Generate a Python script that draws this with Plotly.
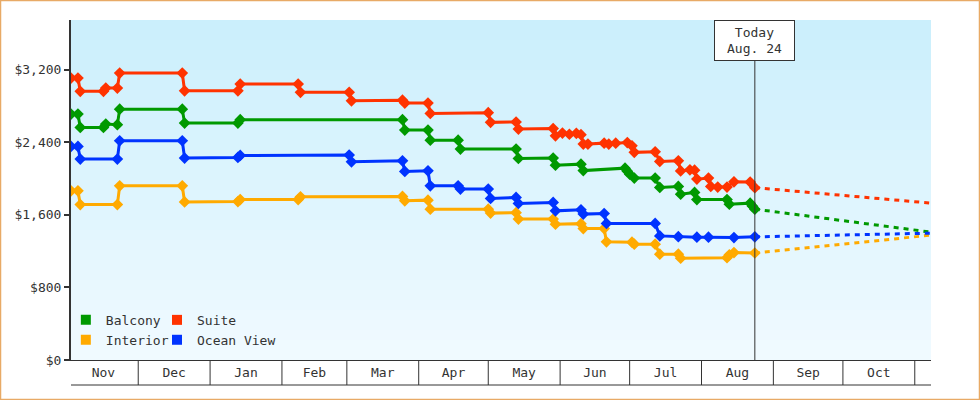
import plotly.graph_objects as go
import pandas as pd

# price history per cabin type
balcony_dates = ["2012-11-02", "2012-11-05", "2012-11-06", "2012-11-16", "2012-11-17", "2012-11-22",
                 "2012-11-23", "2012-12-20", "2012-12-21", "2013-01-13", "2013-01-14", "2013-03-25",
                 "2013-03-26", "2013-04-05", "2013-04-06", "2013-04-18", "2013-04-19", "2013-05-13",
                 "2013-05-14", "2013-05-29", "2013-05-30", "2013-06-10", "2013-06-11", "2013-06-29",
                 "2013-06-30", "2013-07-01", "2013-07-03", "2013-07-12", "2013-07-14", "2013-07-22",
                 "2013-07-23", "2013-07-29", "2013-07-30", "2013-08-12", "2013-08-13", "2013-08-22",
                 "2013-08-23", "2013-08-24"]
balcony_prices = [2712, 2712, 2565, 2565, 2602, 2596,
                  2767, 2767, 2613, 2613, 2651, 2651,
                  2536, 2536, 2425, 2425, 2326, 2326,
                  2223, 2227, 2149, 2160, 2089, 2116,
                  2083, 2050, 2006, 2006, 1903, 1914,
                  1829, 1848, 1769, 1769, 1719, 1730,
                  1697, 1664]

suite_dates = ["2012-11-02", "2012-11-05", "2012-11-06", "2012-11-16", "2012-11-17", "2012-11-22",
               "2012-11-23", "2012-12-20", "2012-12-21", "2013-01-13", "2013-01-14", "2013-02-08",
               "2013-02-09", "2013-03-02", "2013-03-03", "2013-03-25", "2013-03-26", "2013-04-05",
               "2013-04-06", "2013-05-01", "2013-05-02", "2013-05-13", "2013-05-14", "2013-05-29",
               "2013-05-30", "2013-06-02", "2013-06-05", "2013-06-08", "2013-06-10", "2013-06-11",
               "2013-06-13", "2013-06-20", "2013-06-22", "2013-06-25", "2013-06-30", "2013-07-02",
               "2013-07-03", "2013-07-12", "2013-07-14", "2013-07-22", "2013-07-23", "2013-07-27",
               "2013-07-29", "2013-07-30", "2013-08-04", "2013-08-05", "2013-08-08", "2013-08-12",
               "2013-08-15", "2013-08-22", "2013-08-24"]
suite_prices = [3109, 3109, 2963, 2963, 2999, 2999,
                3165, 3165, 2969, 2969, 3043, 3043,
                2952, 2952, 2859, 2866, 2834, 2834,
                2720, 2728, 2621, 2625, 2547, 2552,
                2473, 2503, 2490, 2500, 2485, 2381,
                2381, 2392, 2381, 2392, 2398, 2362,
                2290, 2296, 2190, 2197, 2085, 2098,
                2094, 1995, 2006, 1914, 1907, 1907,
                1965, 1962, 1901]

interior_dates = ["2012-11-02", "2012-11-05", "2012-11-06", "2012-11-22", "2012-11-23", "2012-12-20",
                  "2012-12-21", "2013-01-13", "2013-01-14", "2013-02-08", "2013-02-09", "2013-03-25",
                  "2013-03-26", "2013-04-05", "2013-04-06", "2013-05-01", "2013-05-02", "2013-05-13",
                  "2013-05-14", "2013-05-29", "2013-05-30", "2013-06-10", "2013-06-11", "2013-06-20",
                  "2013-06-21", "2013-07-02", "2013-07-03", "2013-07-12", "2013-07-14", "2013-07-22",
                  "2013-07-23", "2013-08-12", "2013-08-13", "2013-08-15", "2013-08-24"]
interior_prices = [1866, 1866, 1714, 1714, 1921, 1921,
                   1744, 1747, 1769, 1769, 1800, 1804,
                   1756, 1763, 1664, 1664, 1620, 1625,
                   1554, 1554, 1498, 1504, 1449, 1449,
                   1303, 1300, 1278, 1278, 1167, 1167,
                   1123, 1129, 1160, 1185, 1180]

ocean_dates = ["2012-11-02", "2012-11-05", "2012-11-06", "2012-11-22", "2012-11-23", "2012-12-20",
               "2012-12-21", "2013-01-13", "2013-01-14", "2013-03-02", "2013-03-03", "2013-03-25",
               "2013-03-26", "2013-04-05", "2013-04-06", "2013-04-18", "2013-04-19", "2013-05-01",
               "2013-05-02", "2013-05-13", "2013-05-14", "2013-05-29", "2013-05-30", "2013-06-10",
               "2013-06-11", "2013-06-20", "2013-06-21", "2013-07-12", "2013-07-14", "2013-07-22",
               "2013-07-30", "2013-08-04", "2013-08-15", "2013-08-24"]
ocean_prices = [2356, 2356, 2216, 2216, 2418, 2418,
                2227, 2234, 2256, 2260, 2186, 2197,
                2080, 2087, 1921, 1921, 1885, 1885,
                1782, 1793, 1727, 1738, 1645, 1656,
                1609, 1616, 1506, 1506, 1369, 1360,
                1355, 1355, 1350, 1358]

# projected prices from today to the end of the range
forecast_dates = ["2013-08-24", "2013-11-08"]
balcony_forecast = [1664, 1410]
suite_forecast = [1901, 1730]
interior_forecast = [1180, 1377]
ocean_forecast = [1358, 1399]

y_ticks = [0, 800, 1600, 2400, 3200]
y_tick_labels = [f"${v:,}" for v in y_ticks]
today = "2013-08-24"

series = [
    ("Balcony", "#009900", balcony_dates, balcony_prices, balcony_forecast, "legend"),
    ("Suite", "#ff3300", suite_dates, suite_prices, suite_forecast, "legend2"),
    ("Interior", "#ffaa00", interior_dates, interior_prices, interior_forecast, "legend"),
    ("Ocean View", "#0033ff", ocean_dates, ocean_prices, ocean_forecast, "legend2"),
]

font = dict(family="DejaVu Sans Mono", size=13, color="#333333")
ink = "#333333"

fig = go.Figure()

for name, color, dates, prices, forecast, leg in series:
    fig.add_trace(go.Scatter(
        x=forecast_dates, y=forecast, mode="lines",
        line=dict(color=color, width=3, dash="5px,5px"),
        showlegend=False, hoverinfo="skip"
    ))
    fig.add_trace(go.Scatter(
        x=dates, y=prices, mode="lines+markers", name=name,
        line=dict(color=color, width=3),
        marker=dict(symbol="diamond", size=9, color=color),
        showlegend=False
    ))

# legend-only entries with square swatches
for name, color, dates, prices, forecast, leg in series:
    fig.add_trace(go.Scatter(
        x=[None], y=[None], mode="markers", name=name, legend=leg,
        marker=dict(symbol="square", size=10, color=color)
    ))

# background gradient, light blue at the top to almost white at the bottom
shapes = []
n_bands = 34
top_rgb = (203, 239, 252)
bottom_rgb = (240, 250, 255)
for i in range(n_bands):
    t = i / (n_bands - 1)
    r, g, b = [round(a + (c - a) * t) for a, c in zip(top_rgb, bottom_rgb)]
    shapes.append(dict(
        type="rect", xref="paper", yref="paper", layer="below",
        x0=0, x1=1, y0=1 - (i + 1) / n_bands - 0.002, y1=1 - i / n_bands,
        fillcolor=f"rgb({r},{g},{b})", line=dict(width=0)
    ))

# month boxes under the x axis
box_bottom = -25 / 340
for m in pd.date_range("2012-12-01", "2013-11-01", freq="MS"):
    shapes.append(dict(type="line", xref="x", yref="paper",
                       x0=m, x1=m, y0=0, y1=box_bottom, line=dict(color=ink, width=1)))
shapes.append(dict(type="line", xref="paper", yref="paper",
                   x0=0, x1=1, y0=box_bottom, y1=box_bottom, line=dict(color=ink, width=1)))

# today marker line
shapes.append(dict(type="line", xref="x", yref="paper",
                   x0=today, x1=today, y0=0, y1=300 / 340, line=dict(color=ink, width=1)))

# outer orange frame
shapes.append(dict(type="rect", xref="paper", yref="paper",
                   x0=-70.5 / 860, x1=908.5 / 860, y0=-39.5 / 340, y1=1 + 19.5 / 340,
                   line=dict(color="#e8aa66", width=1.5)))

fig.update_layout(
    width=980, height=400,
    margin=dict(l=71, r=49, t=20, b=40),
    paper_bgcolor="white",
    plot_bgcolor="#e4f6fd",
    font=font,
    shapes=shapes,
    hovermode=False,
    legend=dict(x=-0.006, y=0.162, xanchor="left", yanchor="top",
                bgcolor="rgba(0,0,0,0)", font=font, tracegroupgap=0),
    legend2=dict(x=0.1, y=0.162, xanchor="left", yanchor="top",
                 bgcolor="rgba(0,0,0,0)", font=font, tracegroupgap=0),
    annotations=[dict(
        x=today, xref="x", y=1, yref="paper", yanchor="top",
        text="Today<br>Aug. 24", showarrow=False, font=font,
        bgcolor="white", bordercolor=ink, borderwidth=1, borderpad=0,
        width=79, height=39
    )],
)

fig.update_xaxes(
    range=["2012-11-02", "2013-11-08"],
    tick0="2012-11-01", dtick="M1", tickformat="%b",
    ticklabelmode="period", ticks="",
    showgrid=False, zeroline=False,
    showline=True, linecolor=ink, linewidth=1,
    tickfont=font
)

fig.update_yaxes(
    range=[0, 3750],
    tickvals=y_ticks, ticktext=y_tick_labels,
    ticks="outside", ticklen=5, tickwidth=2, tickcolor=ink,
    showgrid=False, zeroline=False,
    showline=True, linecolor=ink, linewidth=2,
    tickfont=font
)

# drop the default page margin so the 980x400 figure sits at the window corner
fig.write_html("out.html", config={"displayModeBar": False},
               post_script="document.body.style.margin='0';")
